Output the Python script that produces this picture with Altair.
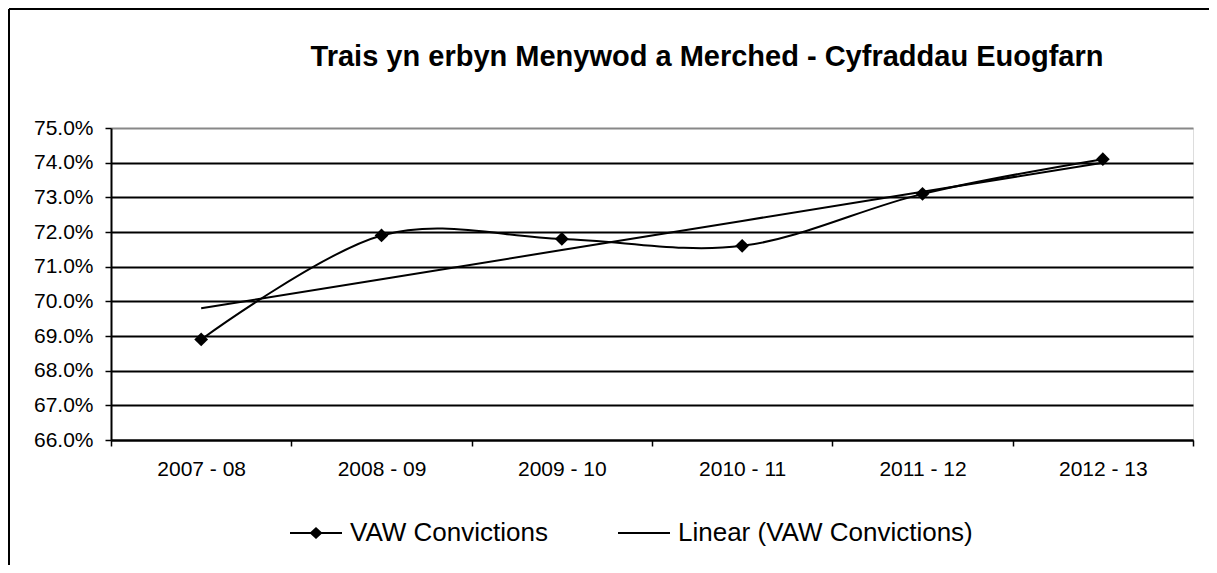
import altair as alt
import numpy as np
import pandas as pd

years = ["2007 - 08", "2008 - 09", "2009 - 10", "2010 - 11", "2011 - 12", "2012 - 13"]
vaw_convictions = [68.9, 71.9, 71.8, 71.6, 73.1, 74.1]
y_ticks = [66, 67, 68, 69, 70, 71, 72, 73, 74, 75]
series_names = ["VAW Convictions", "Linear (VAW Convictions)"]
title_text = "Trais yn erbyn Menywod a Merched - Cyfraddau Euogfarn"

FONT = "Liberation Sans"

idx = np.arange(len(years))
slope, intercept = np.polyfit(idx, vaw_convictions, 1)
trend = list(intercept + slope * idx)

df = pd.DataFrame({"year": years, "value": vaw_convictions, "trend": trend})
legend_df = pd.DataFrame({"series": series_names})
frame_df = pd.DataFrame({"a": [0]})

x_axis = alt.Axis(
    title=None, labelAngle=0, tickBand="extent", labelFont=FONT, labelFontSize=21,
    labelColor="black", domainColor="black", domainWidth=2, tickColor="black",
    tickWidth=1.5, tickSize=6, labelPadding=12, grid=False,
)
x_scale = alt.Scale(type="band", paddingInner=0, paddingOuter=0)
y_scale = alt.Scale(domain=[66, 75], nice=False, zero=False)
y_axis = alt.Axis(
    title=None, values=y_ticks, tickCount=10, labelOverlap=False,
    labelExpr="format(datum.value, '.1f') + '%'",
    labelFont=FONT, labelFontSize=21, labelColor="black", domainColor="black",
    domainWidth=2, tickColor="black", tickWidth=1.5, tickSize=6, labelPadding=12,
    grid=True, gridWidth=1.8,
    gridColor={"condition": {"test": "datum.value >= 75", "value": "#888888"}, "value": "black"},
)


def xe():
    return alt.X("year:N", sort=years, bandPosition=0.5, scale=x_scale, axis=x_axis)


def ye(field):
    return alt.Y(field, type="quantitative", scale=y_scale, axis=y_axis)


base = alt.Chart(df)

main_line = base.mark_line(interpolate="cardinal", color="black", strokeWidth=2).encode(
    x=xe(), y=ye("value")
)
trend_line = base.mark_line(color="black", strokeWidth=2).encode(
    x=xe(), y=ye("trend")
)
points = base.mark_point(shape="diamond", filled=True, color="black", size=190, opacity=1).encode(
    x=xe(), y=ye("value")
)

# legend glyphs drawn as filled outlines: a thin bar, plus a diamond for the data series
diamond_path = "M-1,-0.035H1V0.035H-1Z M-0.25,0L0,-0.23L0.25,0L0,0.23Z"
line_path = "M-1,-0.035H1V0.035H-1Z"

legend_layer = alt.Chart(legend_df).mark_point(
    opacity=0, filled=True, color="black"
).encode(
    shape=alt.Shape(
        "series:N",
        sort=series_names,
        scale=alt.Scale(domain=series_names, range=[diamond_path, line_path]),
        legend=alt.Legend(
            title=None, orient="none", direction="horizontal", legendX=179, legendY=379,
            padding=0, symbolSize=2704, symbolFillColor="black",
            symbolStrokeWidth=0, symbolOpacity=1, labelFont=FONT, labelFontSize=26,
            labelColor="black", labelOffset=8, columnPadding=70, labelLimit=600,
        ),
    )
)

left_border = alt.Chart(frame_df).mark_rule(color="black", strokeWidth=2).encode(
    x=alt.value(-102), y=alt.value(-119), y2=alt.value(470)
)
top_border = alt.Chart(frame_df).mark_rule(color="black", strokeWidth=2).encode(
    x=alt.value(-102), x2=alt.value(1120), y=alt.value(-119)
)

chart = alt.layer(
    main_line, trend_line, points, legend_layer, left_border, top_border
).properties(
    width=1082,
    height=312,
    title=alt.TitleParams(
        title_text, font=FONT, fontSize=29, fontWeight="bold", color="black",
        anchor="middle", dx=55, offset=-87, baseline="alphabetic",
    ),
    autosize=alt.AutoSizeParams(type="none"),
    padding={"left": 103, "top": 120, "right": 16, "bottom": 125},
).configure_view(
    stroke="#888888", strokeWidth=1.5
).configure(background="white")

chart.save("out.html", embed_options={"renderer": "svg", "actions": False})
